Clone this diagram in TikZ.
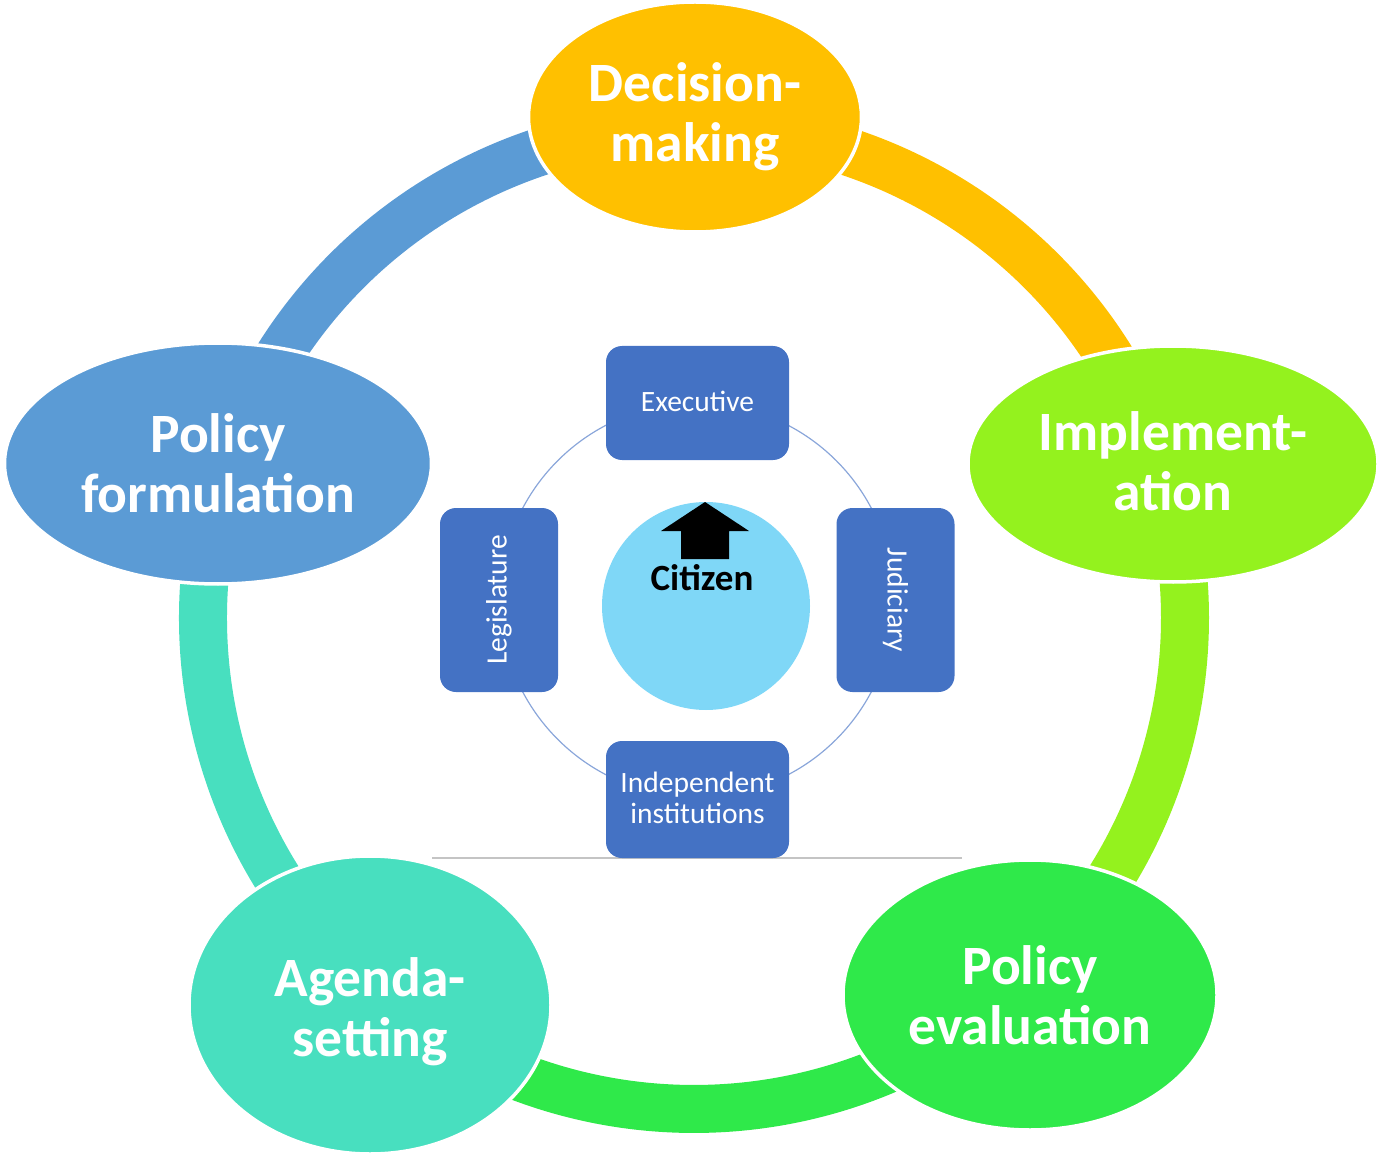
\documentclass[tikz,border=0pt]{standalone}
\usepackage{fontspec}
\setmainfont{Carlito}
\usetikzlibrary{shapes.geometric}
\definecolor{cDec}{HTML}{FFC000}
\definecolor{cImp}{HTML}{94F21E}
\definecolor{cEva}{HTML}{2FE94A}
\definecolor{cAge}{HTML}{48DFBF}
\definecolor{cFor}{HTML}{5B9BD5}
\definecolor{boxblue}{HTML}{4472C4}
\definecolor{citblue}{HTML}{7FD7F7}
\definecolor{thinblue}{HTML}{8AA6DA}
\definecolor{hlgray}{HTML}{C4C4C4}
\begin{document}
\begin{tikzpicture}[x=1pt,y=-1pt,
  stage/.style={ellipse, draw=white, line width=3.5pt, inner sep=0pt, text=white,
    font=\fontsize{55.5}{60}\bfseries\selectfont, align=center},
  ringseg/.style={line width=48pt},
  inst/.style={rectangle, rounded corners=16pt, fill=boxblue, text=white,
    font=\fontsize{29.5}{31.5}\selectfont, align=center, inner sep=0pt},
  thinring/.style={draw=thinblue, line width=1.2pt},
  hline/.style={draw=hlgray, line width=1.5pt}
]
\useasboundingbox (0,0) rectangle (1379,1155);
\coordinate (O) at (694,618);
% outer ring segments
\draw[ringseg, cDec] ([shift={(270:491)}]O) arc[start angle=270, end angle=342.2, radius=491];
\draw[ringseg, cImp] ([shift={(342.2:491)}]O) arc[start angle=342.2, end angle=408.3, radius=491];
\draw[ringseg, cEva] ([shift={(48.3:491)}]O) arc[start angle=48.3, end angle=129.9, radius=491];
\draw[ringseg, cAge] ([shift={(129.9:491)}]O) arc[start angle=129.9, end angle=198, radius=491];
\draw[ringseg, cFor] ([shift={(198:491)}]O) arc[start angle=198, end angle=270, radius=491];
% stage ellipses
\node[stage, fill=cDec, minimum width=333pt, minimum height=230pt] (dec) at (695,117) {Decision-\\making};
\node[stage, fill=cImp, minimum width=410pt, minimum height=236pt] (imp) at (1173,464) {Implement-\\ation\rule[-6pt]{0pt}{6pt}};
\node[stage, fill=cEva, minimum width=374pt, minimum height=270pt] (eva) at (1030,995) {Policy\\evaluation};
\node[stage, fill=cAge, minimum width=362pt, minimum height=298pt] (age) at (370,1005) {\rule{0pt}{52pt}Agenda-\\setting};
\node[stage, fill=cFor, minimum width=427pt, minimum height=241pt] (for) at (218,463.5) {Policy\\formulation};
% inner part
\coordinate (IC) at (697,600);
\draw[thinring] (IC) circle[radius=197];
\coordinate (hlA) at (432,858);
\coordinate (hlB) at (962,858);
\draw[hline] (hlA) -- (hlB);
\node[inst, minimum width=183pt, minimum height=114pt] (exe) at (697.5,403) {\raisebox{4pt}{Executive}};
\node[inst, minimum width=183pt, minimum height=117pt] (ind) at (697.5,799.5) {\raisebox{3pt}{Independent}\\\raisebox{3pt}{institutions}};
\node[inst, rotate=90, minimum width=184pt, minimum height=118pt] (leg) at (499,600) {Legislature};
\node[inst, rotate=-90, minimum width=184pt, minimum height=118pt] (jud) at (895.5,600) {Judiciary};
\node[circle, fill=citblue, minimum size=208pt, inner sep=0pt] (cit) at (706,606) {};
\fill[black] (705,502) -- (749,531) -- (729,531) -- (729,559) -- (681,559) -- (681,531) -- (661,531) -- cycle;
\node[font=\fontsize{37}{40}\bfseries\selectfont, text=black, inner sep=0pt] (citlbl) at (702,578) {Citizen};
\end{tikzpicture}
\end{document}
